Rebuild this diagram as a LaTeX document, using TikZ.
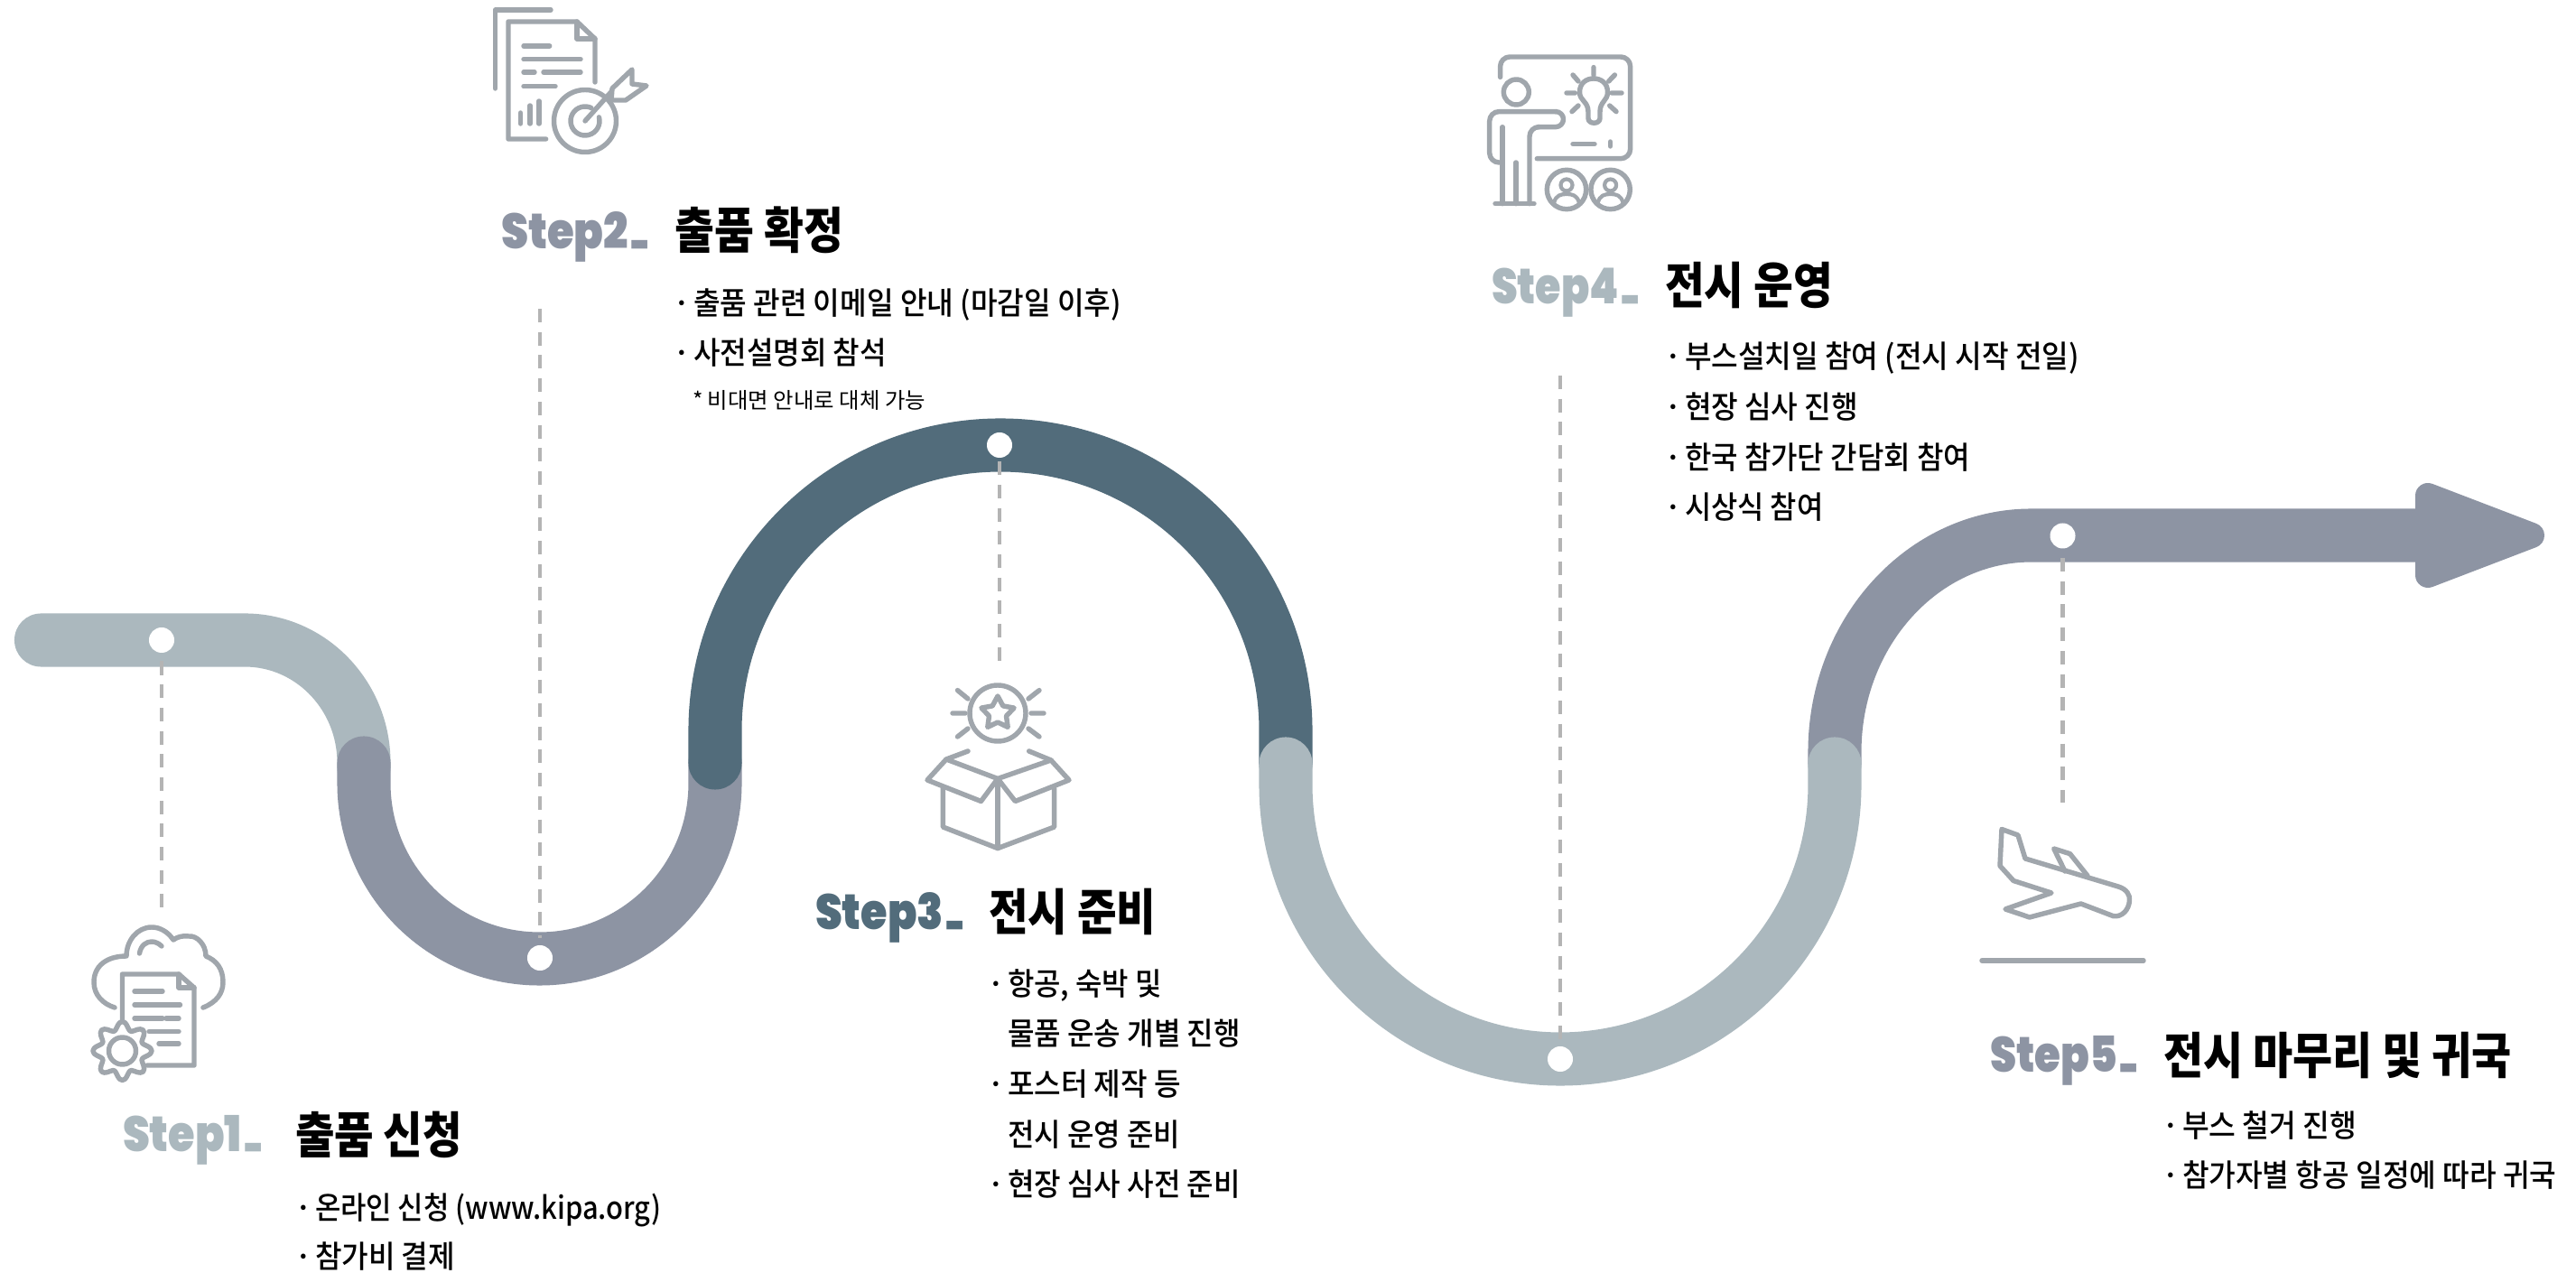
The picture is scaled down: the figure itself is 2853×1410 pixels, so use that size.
\documentclass[tikz,border=0pt]{standalone}
\usepackage{graphicx}
\usepackage{fontspec}
\newfontfamily\krbody{Noto Sans CJK KR Medium}
\newfontfamily\krnote{Noto Sans CJK KR}
\newfontfamily\krtitle{Noto Sans CJK KR Black}
\newfontfamily\stepf{Poppins}[UprightFont=* Black]
\newlength\unitpx
\setlength\unitpx{0.01cm}
\newcommand{\fitw}[2]{\resizebox{#1\unitpx}{\height}{#2}}
\newcommand{\bul}[2]{\makebox[23\unitpx][l]{·}\fitw{#1}{#2}}
\newcommand{\stp}[2]{\fitw{#1}{#2}\hspace{2\unitpx}\resizebox{20\unitpx}{\height}{\raisebox{3.2pt}{\scalebox{1}[0.8]{\_}}}}
\definecolor{lightc}{HTML}{ABB8BE}
\definecolor{grayc}{HTML}{8D94A3}
\definecolor{darkc}{HTML}{526C7B}
\definecolor{iconc}{HTML}{A0A6AC}
\definecolor{dashc}{HTML}{B4B4B4}
\tikzset{
  track/.style={line width=16.8pt,line cap=round,line join=round},
  dotn/.style={circle,fill=white,inner sep=0pt,minimum size=0.28cm},
  leader/.style={dashc,line width=1.15pt,dash pattern=on 4.27pt off 3.04pt},
  icon/.style={iconc,line width=1.55pt,line cap=round,line join=round},
  lbl/.style={anchor=base west,inner sep=0pt,outer sep=0pt},
  stepl/.style={lbl,font=\stepf\fontsize{15.6}{18}\selectfont},
  titlel/.style={lbl,black,font=\krtitle\fontsize{15.6}{18}\selectfont},
  bodyl/.style={lbl,black,font=\krbody\fontsize{9.8}{12}\selectfont},
  notel/.style={lbl,black,font=\krnote\fontsize{6.9}{8}\selectfont},
}
\begin{document}
\begin{tikzpicture}[x=0.01cm,y=-0.01cm]
\useasboundingbox (0,0) rectangle (2853,1410);
% tracks
\draw[track,lightc] (45.5,709) -- (271,709) arc[start angle=-90,end angle=0,x radius=132,y radius=136] -- (403,850);
\draw[track,grayc] (403,845) -- (403,867.5) arc[start angle=180,end angle=0,radius=194.5] -- (792,845);
\draw[track,darkc] (792,845) -- (792,809) arc[start angle=180,end angle=360,radius=316] -- (1424,846);
\draw[track,grayc] (2032,846) -- (2032,833) arc[start angle=180,end angle=270,x radius=218,y radius=240] -- (2680,593);
\filldraw[grayc,line width=7.97pt,line join=round] (2689,549) -- (2804,593) -- (2689,637) -- cycle;
\draw[track,lightc] (1424,846) -- (1424,869) arc[start angle=180,end angle=0,radius=304] -- (2032,846);
% dots
\node[dotn] (d1) at (179,709) {};
\node[dotn] (d2) at (598,1061) {};
\node[dotn] (d3) at (1107,493) {};
\node[dotn] (d4) at (1728,1173) {};
\node[dotn] (d5) at (2284.5,593.5) {};
% leaders
\coordinate (e1) at (179,1005);
\coordinate (s2) at (598,342);
\coordinate (e3) at (1107,733);
\coordinate (s4) at (1728,416);
\coordinate (e5) at (2284.5,889);
\draw[leader,shorten <=2.5pt] (d1) -- (e1);
\draw[leader,shorten >=2pt] (s2) -- (d2);
\draw[leader,shorten <=1pt] (d3) -- (e3);
\draw[leader,shorten >=2pt] (s4) -- (d4);
\draw[leader,shorten <=2.8pt] (d5) -- (e5);
% icon 1
\draw[icon] (225,1116) .. controls (240,1110) and (247,1100) .. (247,1088) .. controls (247,1073) and (240,1064) .. (228,1059) .. controls (228,1046) and (218,1036) .. (209,1037) .. controls (202,1036) and (196,1038) .. (192,1041) .. controls (186,1032) and (177,1027) .. (168,1027) .. controls (152,1027) and (140,1042) .. (140,1059) .. controls (118,1059) and (104,1070) .. (104,1088) .. controls (104,1102) and (114,1112) .. (127,1116);
\draw[icon] (154.5,1056) .. controls (156,1047) and (162,1043) .. (168,1043) .. controls (172,1043) and (176,1045) .. (179,1048);
\draw[icon] (135.5,1129) -- (135.5,1079) -- (198,1079) -- (215,1094) -- (215,1180) -- (163,1180);
\draw[icon] (198,1079) -- (198,1094) -- (215,1094);
\draw[icon] (149,1098) -- (180,1098) (149,1113) -- (199.5,1113) (149,1128) -- (180,1128) (184,1128) -- (198,1128) (165,1142.5) -- (198,1142.5) (176,1156) -- (198,1156);
\begin{scope}[shift={(135.5,1164)}]
\filldraw[icon,fill=white] plot[smooth cycle,samples=72,domain=0:355] (\x:{28+4.5*cos(8*\x)});
\draw[icon] (0,0) circle[radius=15];
\end{scope}
% icon 2
\draw[icon] (548.5,98) -- (548.5,11) -- (610,11);
\draw[icon] (604.6,154) -- (563,154) -- (563,24) -- (639,24) -- (659,43) -- (659,91);
\draw[icon] (639,24) -- (639,43) -- (659,43);
\draw[icon] (580,51) -- (608.7,51) (580,65.7) -- (643,65.7) (580,80) -- (592,80) (602,80) -- (643,80) (580,95.7) -- (615,95.7);
\draw[icon] (576.5,125) -- (576.5,137) (587,117) -- (587,137) (597,112) -- (597,137);
\draw[icon] (648,134) circle[radius=34.5];
\draw[icon] ([shift={(-15:16)}]648,134) arc[start angle=-15,end angle=295,radius=16];
\draw[icon] (648,134) -- (678.5,100);
\draw[icon,fill=white] (678,98) -- (700,77) -- (700,93) -- (716,95) -- (693,111) -- (677,111) -- cycle;
% icon 3
\draw[icon] (1105,790) circle[radius=31];
\begin{scope}[shift={(1105,790)}]
\draw[icon] (-90:19) -- (-54:10) -- (-18:19) -- (18:10) -- (54:19) -- (90:10) -- (126:19) -- (162:10) -- (198:19) -- (234:10) -- cycle;
\end{scope}
\draw[icon] (1060.5,764.6) -- (1072,774) (1055,790) -- (1069,790) (1060.5,816) -- (1072,807) (1139,774) -- (1151,764.6) (1142,790) -- (1156,790) (1139,807) -- (1151,816);
\draw[icon] (1105,862.5) -- (1048,841) -- (1027,864) -- (1086.5,887.5) -- (1105,862.5) -- (1124.4,887.5) -- (1184,864) -- (1164,842) -- cycle;
\draw[icon] (1048,841) -- (1072,832) (1164,842) -- (1139.7,832);
\draw[icon] (1044.4,873) -- (1044.4,916) -- (1105,939.6) -- (1167.6,916) -- (1167.6,873);
\draw[icon] (1105,862.5) -- (1105,939.6);
% icon 4
\draw[icon,rounded corners=3pt] (1661.6,85.4) -- (1661.6,63) -- (1805.6,63) -- (1805.6,175.7) -- (1702.3,175.7);
\draw[icon] (1679.3,102) circle[radius=14];
\draw[icon,rounded corners=3pt] (1664,180) -- (1649.7,180) -- (1649.7,123.6) -- (1723,123.6);
\draw[icon] (1723,123.6) arc[start angle=-90,end angle=90,radius=8.5] -- (1703.7,140.6);
\draw[icon,rounded corners=3pt] (1703.7,140.6) -- (1694,140.6) -- (1694,225.7);
\draw[icon] (1664,140.7) -- (1664,225.7) (1679,180) -- (1679,225.7) (1656,225.7) -- (1699,225.7);
\draw[icon] (1759,124) .. controls (1759,112) and (1749.5,112) .. (1749.5,102) .. controls (1749.5,92) and (1757,87) .. (1765,87) .. controls (1773,87) and (1780.5,92) .. (1780.5,102) .. controls (1780.5,112) and (1772,112) .. (1772,124) -- (1772,131) .. controls (1772,138) and (1759,138) .. (1759,131) -- cycle;
\draw[icon] (1765,74.6) -- (1765,83) (1735,103) -- (1744.4,103) (1785,103) -- (1796,103) (1742,83) -- (1748,90) (1788.4,83) -- (1781.7,90) (1741,123.6) -- (1748,117) (1790,123.6) -- (1782.7,117);
\draw[icon] (1742,159.6) -- (1766,159.6) (1783.6,157) -- (1783.6,162);
\foreach \cx in {1735,1783.6} {
  \draw[icon] (\cx,210) circle[radius=21.7];
  \draw[icon,line width=1.2pt] (\cx,205) circle[radius=6.5];
  \draw[icon,line width=1.2pt] (\cx-14,225) .. controls (\cx-12,216) and (\cx-6,215) .. (\cx,215) .. controls (\cx+6,215) and (\cx+12,216) .. (\cx+14,225);
}
% icon 5
\draw[icon] (2217,918.5) -- (2235,925) -- (2243,951) -- (2346,982) .. controls (2356,985) and (2359,992) .. (2358.5,997) .. controls (2358,1008) and (2350,1016) .. (2340.6,1014.7) -- (2304.7,1001) -- (2247.8,1016) -- (2221,1007) -- (2272,989) -- (2230,975.5) -- (2215,959) -- cycle;
\draw[icon] (2287,965) -- (2274.7,940) -- (2292.6,945.7) -- (2312,970);
\draw[icon] (2195,1064) -- (2374,1064);
% Step 1
\node[stepl,lightc] (s1) at (136,1276) {\stp{132}{Step1}};
\node[titlel] (t1) at (327,1278) {\fitw{185}{출품 신청}};
\node[bodyl] (b11) at (326,1351) {\bul{383}{온라인 신청 (www.kipa.org)}};
\node[bodyl] (b12) at (326,1405) {\bul{155}{참가비 결제}};
% Step 2
\node[stepl,grayc] (s2t) at (555,276) {\stp{141}{Step2}};
\node[titlel] (t2) at (747.5,276) {\fitw{186.5}{출품 확정}};
\node[bodyl] (b21) at (745,349) {\bul{474}{출품 관련 이메일 안내 (마감일 이후)}};
\node[bodyl] (b22) at (745,404) {\bul{214}{사전설명회 참석}};
\node[notel] (b23) at (767,453) {\fitw{258}{* 비대면 안내로 대체 가능}};
% Step 3
\node[stepl,darkc] (s3) at (903,1030) {\stp{142}{Step3}};
\node[titlel] (t3) at (1095,1031) {\fitw{185.5}{전시 준비}};
\node[bodyl] (b31) at (1093,1103) {\bul{171}{항공, 숙박 및}};
\node[bodyl] (b32) at (1116,1158) {\fitw{258}{물품 운송 개별 진행}};
\node[bodyl] (b33) at (1093,1214) {\bul{192}{포스터 제작 등}};
\node[bodyl] (b34) at (1116,1270) {\fitw{191}{전시 운영 준비}};
\node[bodyl] (b35) at (1093,1325) {\bul{258}{현장 심사 사전 준비}};
% Step 4
\node[stepl,lightc] (s4t) at (1652,337) {\stp{141}{Step4}};
\node[titlel] (t4) at (1844,337) {\fitw{186}{전시 운영}};
\node[bodyl] (b41) at (1843,408) {\bul{437}{부스설치일 참여 (전시 시작 전일)}};
\node[bodyl] (b42) at (1843,464) {\bul{192}{현장 심사 진행}};
\node[bodyl] (b43) at (1843,520) {\bul{316}{한국 참가단 간담회 참여}};
\node[bodyl] (b44) at (1843,575) {\bul{153.5}{시상식 참여}};
% Step 5
\node[stepl,grayc] (s5) at (2204,1188) {\stp{141}{Step5}};
\node[titlel] (t5) at (2396,1190) {\fitw{386}{전시 마무리 및 귀국}};
\node[bodyl] (b51) at (2394,1260) {\bul{193}{부스 철거 진행}};
\node[bodyl] (b52) at (2394,1315) {\bul{414.5}{참가자별 항공 일정에 따라 귀국}};
\end{tikzpicture}
\end{document}
